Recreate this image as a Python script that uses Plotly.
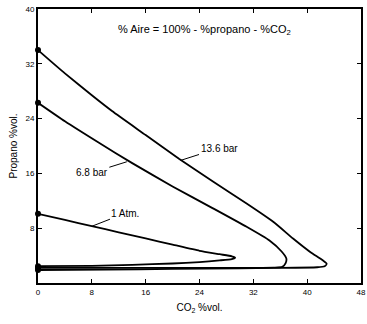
import plotly.graph_objects as go

# Flammability envelopes of propane / CO2 / air mixtures at three pressures
co2_136 = [0, 4, 8, 11, 16, 21, 26, 31, 35, 37.9, 40.5, 42.2, 42.9, 42.6, 41.5, 35, 25, 15, 0]
prop_136 = [34.0, 30.6, 27.4, 25.1, 21.6, 18.1, 14.8, 11.6, 8.9, 6.5, 4.5, 3.4, 2.8, 2.45, 2.3, 2.2, 2.1, 2.0, 1.9]

co2_68 = [0, 4, 9, 14, 20, 26, 31, 34.4, 36.2, 36.9, 36.8, 36.3, 35, 25, 12, 0]
prop_68 = [26.3, 23.6, 20.5, 17.5, 14.1, 10.9, 8.2, 6.2, 4.6, 3.6, 2.9, 2.35, 2.25, 2.2, 2.2, 2.2]

co2_1 = [0, 4, 8, 12, 16, 20, 24, 27, 28.8, 29.3, 28.8, 27, 24, 20, 14, 8, 0]
prop_1 = [10.1, 9.2, 8.3, 7.4, 6.5, 5.6, 4.7, 4.2, 3.9, 3.7, 3.5, 3.3, 3.05, 2.85, 2.65, 2.5, 2.45]

curve_names = ["13.6 bar", "6.8 bar", "1 Atm."]
# label text centre and the curve point its leader touches
label_x = [26.9, 8.0, 13.0]
label_y = [19.7, 16.1, 10.2]
lead_x = [21.2, 13.2, 8.05]
lead_y = [17.9, 17.7, 8.3]

x_ticks = [0, 8, 16, 24, 32, 40, 48]
y_ticks = [8, 16, 24, 32, 40]

FONT = "Liberation Sans, Arial"

fig = go.Figure()
for xs, ys, name in [(co2_136, prop_136, curve_names[0]),
                     (co2_68, prop_68, curve_names[1]),
                     (co2_1, prop_1, curve_names[2])]:
    fig.add_trace(go.Scatter(x=xs, y=ys, mode="lines", name=name,
                             line=dict(color="black", width=1.8, shape="spline", smoothing=0.5),
                             showlegend=False, hoverinfo="skip"))
    fig.add_trace(go.Scatter(x=[xs[0], xs[-1]], y=[ys[0], ys[-1]], mode="markers",
                             marker=dict(color="black", size=6), showlegend=False,
                             cliponaxis=False, hoverinfo="skip"))

for name, tx, ty, px, py in zip(curve_names, label_x, label_y, lead_x, lead_y):
    fig.add_annotation(x=px, y=py, ax=tx, ay=ty, axref="x", ayref="y", text=name,
                       showarrow=True, arrowhead=0, arrowwidth=1, arrowcolor="black",
                       font=dict(size=10, color="black", family=FONT))

fig.add_annotation(x=24.7, y=36.9, text="% Aire = 100% - %propano - %CO<sub>2</sub>",
                   showarrow=False, font=dict(size=11, color="black", family=FONT))

axis_common = dict(showgrid=False, zeroline=False, showline=True, linecolor="black",
                   linewidth=2, mirror="ticks", ticks="inside", ticklen=4,
                   tickcolor="black", tickwidth=1,
                   tickfont=dict(size=8, color="black", family=FONT),
                   title_font=dict(size=10, color="black", family=FONT))

fig.update_xaxes(range=[0, 48], tickvals=x_ticks, title_text="CO<sub>2</sub> %vol.",
                 title_standoff=8, ticklabeloverflow="allow", **axis_common)
fig.update_yaxes(range=[0, 40], tickvals=y_ticks, title_text="Propano %vol.",
                 title_standoff=6, **axis_common)

fig.update_layout(width=367, height=324, margin=dict(l=38, r=1, t=9, b=41),
                  paper_bgcolor="white", plot_bgcolor="white")

fig.write_html("out.html")
